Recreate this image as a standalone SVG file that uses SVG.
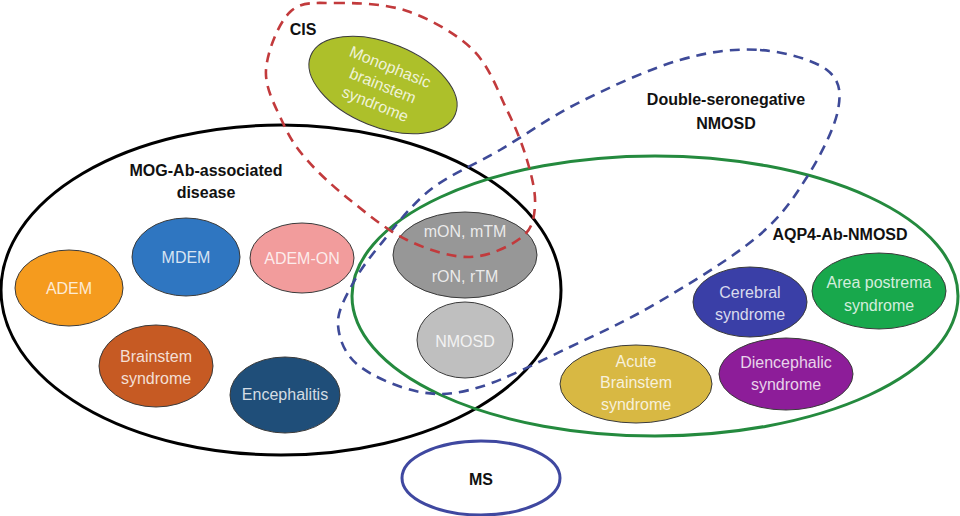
<svg xmlns="http://www.w3.org/2000/svg" width="960" height="516" viewBox="0 0 960 516">
<style>
.set{fill:none}
.lbl{font-family:"Liberation Sans",Arial,sans-serif;font-weight:bold;font-size:16px;fill:#111;text-anchor:middle}
.nd{stroke:#3a3a3a;stroke-width:1}
.nt{font-family:"Liberation Sans",Arial,sans-serif;font-size:16px;fill:#fff;fill-opacity:0.82;text-anchor:middle}
</style>
<rect width="960" height="516" fill="#fff"/>
<g id="set-mog">
<ellipse class="set" cx="281" cy="290" rx="280" ry="165" stroke="#000" stroke-width="3"/>
<text class="lbl" x="206" y="176">MOG-Ab-associated</text>
<text class="lbl" x="206" y="198">disease</text>
</g>
<g id="set-aqp4">
<ellipse class="set" cx="655" cy="296" rx="303" ry="140" stroke="#248a3e" stroke-width="3"/>
<text class="lbl" x="840" y="240">AQP4-Ab-NMOSD</text>
</g>
<g id="set-dsn">
<path class="set" stroke="#3e4a98" stroke-width="2.6" stroke-dasharray="10,7" d="M760,50 C784.5,51.7 814,60 827,70 C840,80 841.3,92.2 838,110 C834.7,127.8 820.5,155.8 807,177 C793.5,198.2 782,216 757,237 C732,258 688.2,284.7 657,303 C625.8,321.3 599.5,333 570,347 C540.5,361 505,379.5 480,387 C455,394.5 440.3,395.7 420,392 C399.7,388.3 371.7,376.2 358,365 C344.3,353.8 339,338.3 338,325 C337,311.7 345,298.3 352,285 C359,271.7 367,260.8 380,245 C393,229.2 410,205.8 430,190 C450,174.2 475,164.7 500,150 C525,135.3 550,117 580,102 C610,87 650,68.7 680,60 C710,51.3 735.5,48.3 760,50 Z"/>
<text class="lbl" x="726" y="105">Double-seronegative</text>
<text class="lbl" x="726" y="129">NMOSD</text>
</g>
<g id="n-mono">
<ellipse class="nd" cx="383" cy="85" rx="78" ry="42" transform="rotate(22 383 85)" fill="#adc02a"/>
<g transform="rotate(22 383 85)">
<text class="nt" x="383" y="71">Monophasic</text>
<text class="nt" x="383" y="91">brainstem</text>
<text class="nt" x="383" y="111">syndrome</text>
</g>
</g>
<g id="n-adem">
<ellipse class="nd" cx="69" cy="288" rx="54" ry="38" fill="#f59b1e"/>
<text class="nt" x="69" y="294">ADEM</text>
</g>
<g id="n-mdem">
<ellipse class="nd" cx="186" cy="257" rx="54" ry="39" fill="#2f76c1"/>
<text class="nt" x="186" y="263">MDEM</text>
</g>
<g id="n-ademon">
<ellipse class="nd" cx="302" cy="258" rx="52" ry="35" fill="#f29c9c"/>
<text class="nt" x="302" y="264">ADEM-ON</text>
</g>
<g id="n-brainstem">
<ellipse class="nd" cx="156" cy="366" rx="57" ry="41" fill="#c65a23"/>
<text class="nt" x="156" y="362">Brainstem</text>
<text class="nt" x="156" y="384">syndrome</text>
</g>
<g id="n-enceph">
<ellipse class="nd" cx="285" cy="395" rx="55" ry="38" fill="#1f4e79"/>
<text class="nt" x="285" y="400">Encephalitis</text>
</g>
<g id="n-on-tm">
<ellipse class="nd" cx="465" cy="255" rx="72" ry="43" fill="#979797"/>
<text class="nt" x="465" y="237">mON, mTM</text>
<text class="nt" x="465" y="282">rON, rTM</text>
</g>
<g id="n-nmosd">
<ellipse class="nd" cx="465" cy="340" rx="48" ry="38" fill="#bfbfbf"/>
<text class="nt" x="465" y="347">NMOSD</text>
</g>
<g id="n-cerebral">
<ellipse class="nd" cx="750" cy="302" rx="57" ry="35" fill="#3a3fa7"/>
<text class="nt" x="750" y="298">Cerebral</text>
<text class="nt" x="750" y="320">syndrome</text>
</g>
<g id="n-area">
<ellipse class="nd" cx="879" cy="291" rx="67" ry="38" fill="#18a84c"/>
<text class="nt" x="879" y="288">Area postrema</text>
<text class="nt" x="879" y="311">syndrome</text>
</g>
<g id="n-acute">
<ellipse class="nd" cx="636" cy="384" rx="76" ry="39" fill="#d8b843"/>
<text class="nt" x="636" y="367">Acute</text>
<text class="nt" x="636" y="388">Brainstem</text>
<text class="nt" x="636" y="410">syndrome</text>
</g>
<g id="n-dienc">
<ellipse class="nd" cx="786" cy="374" rx="67" ry="36" fill="#8d1d99"/>
<text class="nt" x="786" y="368">Diencephalic</text>
<text class="nt" x="786" y="390">syndrome</text>
</g>
<g id="set-cis">
<path class="set" stroke="#c23a3c" stroke-width="2.6" stroke-dasharray="10,7" d="M335,3 C354.5,2.8 384,3.2 407,11 C430,18.8 456.3,33.5 473,50 C489.7,66.5 498,91.7 507,110 C516,128.3 522.3,144.2 527,160 C531.7,175.8 535.8,192.2 535,205 C534.2,217.8 532.8,228.3 522,237 C511.2,245.7 489.2,256.5 470,257 C450.8,257.5 427,249.5 407,240 C387,230.5 366.7,213.3 350,200 C333.3,186.7 318.2,172.8 307,160 C295.8,147.2 289.8,138 283,123 C276.2,108 264.8,88.5 266,70 C267.2,51.5 278.5,23.2 290,12 C301.5,0.8 315.5,3.2 335,3 Z"/>
<text class="lbl" x="303" y="35">CIS</text>
</g>
<g id="set-ms">
<ellipse class="set" cx="481" cy="478" rx="79" ry="37" stroke="#3f48a0" stroke-width="3"/>
<text class="lbl" x="481" y="485">MS</text>
</g>
<g id="connectors"/>
</svg>
